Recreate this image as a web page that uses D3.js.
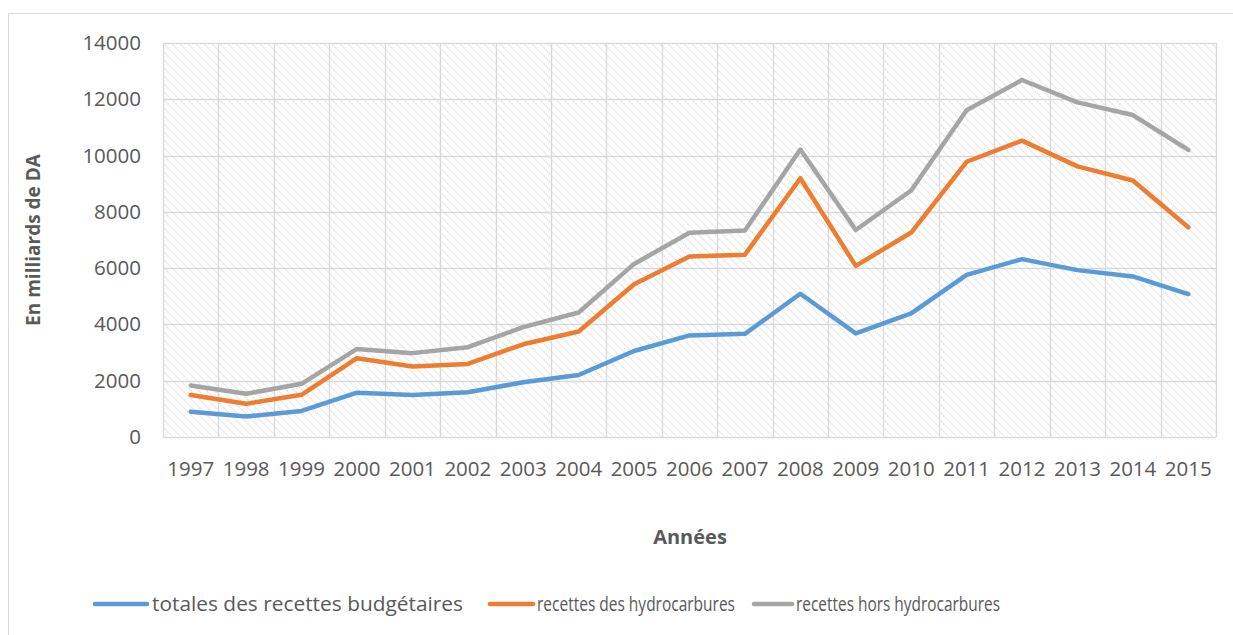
<!DOCTYPE html>
<html><head><meta charset="utf-8">
<script src="https://cdn.jsdelivr.net/npm/d3@7"></script>
<style>body{margin:0;background:#fff;} svg{display:block;}</style>
</head><body>
<svg id="chart" width="1233" height="635"></svg>
<script>
const years = ["1997","1998","1999","2000","2001","2002","2003","2004","2005","2006","2007","2008","2009","2010","2011","2012","2013","2014","2015"];
const totales = [900,730,925,1575,1495,1590,1945,2205,3055,3610,3665,5090,3680,4390,5760,6320,5930,5705,5080];
const hydrocarbures = [1495,1180,1500,2800,2505,2595,3295,3750,5430,6410,6480,9195,6080,7265,9780,10530,9615,9115,7455];
const horsHydrocarbures = [1830,1535,1890,3130,2980,3190,3905,4425,6150,7260,7340,10215,7355,8760,11610,12685,11890,11440,10200];
const yTicks = [0,2000,4000,6000,8000,10000,12000,14000];
const seriesNames = ["totales des recettes budgétaires","recettes des hydrocarbures","recettes hors hydrocarbures"];
const seriesColors = ["#5b9bd5","#ed7d31","#a5a5a5"];

const svg = d3.select("#chart");
const font = "'Open Sans', 'Liberation Sans', sans-serif";
const textColor = "#595959";

// outer border
svg.append("rect").attr("x",8.5).attr("y",13.5).attr("width",1240).attr("height",640)
  .attr("fill","#fff").attr("stroke","#d9d9d9").attr("stroke-width",1);

const L=163, R=1216, T=43, B=437;
const x = d3.scaleBand().domain(years).range([L,R]).padding(0);
const y = d3.scaleLinear().domain([0,14000]).range([B,T]);

// hatch pattern
const defs = svg.append("defs");
const pat = defs.append("pattern").attr("id","hatch").attr("patternUnits","userSpaceOnUse")
  .attr("width",8).attr("height",8);
pat.append("rect").attr("width",8).attr("height",8).attr("fill","#fff");
pat.append("path").attr("d","M-2,-2 L10,10 M-2,6 L2,10 M6,-2 L10,2")
  .attr("stroke","#dedede").attr("stroke-width",1.3).attr("stroke-dasharray","1.4,1");

svg.append("rect").attr("x",L).attr("y",T).attr("width",R-L).attr("height",B-T).attr("fill","url(#hatch)");

// gridlines
const grid = svg.append("g").attr("stroke","#d9d9d9").attr("stroke-width",1.3);
yTicks.forEach(t=>{
  grid.append("line").attr("x1",L).attr("x2",R).attr("y1",Math.round(y(t))+0.5).attr("y2",Math.round(y(t))+0.5);
});
const bounds = years.map(d=>x(d)).concat([R]);
bounds.forEach(b=>{
  grid.append("line").attr("y1",T).attr("y2",B).attr("x1",Math.round(b)+0.5).attr("x2",Math.round(b)+0.5);
});

// y axis
const yAxis = d3.axisLeft(y).tickValues(yTicks).tickSize(0).tickPadding(0).tickFormat(d3.format("d"));
const ya = svg.append("g").attr("transform",`translate(${141},0)`).call(yAxis);
ya.select(".domain").remove();
ya.selectAll("text").attr("font-family",font).attr("font-size",20.5).attr("fill",textColor);

// x axis
const xAxis = d3.axisBottom(x).tickSize(0).tickPadding(0);
const xa = svg.append("g").attr("transform",`translate(0,${461})`).call(xAxis);
xa.select(".domain").remove();
xa.selectAll("text").attr("font-family",font).attr("font-size",20.5).attr("fill",textColor).attr("dy","0.71em");

// axis titles
svg.append("text").attr("transform",`translate(40,${(T+B)/2}) rotate(-90)`)
  .attr("text-anchor","middle").attr("font-family",font).attr("font-weight","bold")
  .attr("font-size",19).attr("fill",textColor).text("En milliards de DA");
svg.append("text").attr("x",690).attr("y",544).attr("text-anchor","middle")
  .attr("font-family",font).attr("font-weight","bold").attr("font-size",20).attr("fill",textColor).text("Années");

// lines
const allSeries = [totales, hydrocarbures, horsHydrocarbures];
const line = d3.line().x((d,i)=>x(years[i])+x.bandwidth()/2).y(d=>y(d));
allSeries.forEach((s,i)=>{
  svg.append("path").datum(s).attr("d",line).attr("fill","none")
    .attr("stroke",seriesColors[i]).attr("stroke-width",4.5).attr("stroke-linejoin","round").attr("stroke-linecap","round");
});

// legend
const legendPos = [[95,147,152,311],[490,533,537,198],[754,792,796,204]];
const lg = svg.append("g");
seriesNames.forEach((n,i)=>{
  const [x1,x2,tx,tw] = legendPos[i];
  lg.append("line").attr("x1",x1).attr("x2",x2).attr("y1",604).attr("y2",604)
    .attr("stroke",seriesColors[i]).attr("stroke-width",4.5).attr("stroke-linecap","round");
  lg.append("text").attr("x",tx).attr("y",604).attr("dy","0.35em").attr("font-family",font)
    .attr("font-size",20.5).attr("fill",textColor)
    .attr("textLength",tw).attr("lengthAdjust","spacingAndGlyphs").text(n);
});
</script>
</body></html>
